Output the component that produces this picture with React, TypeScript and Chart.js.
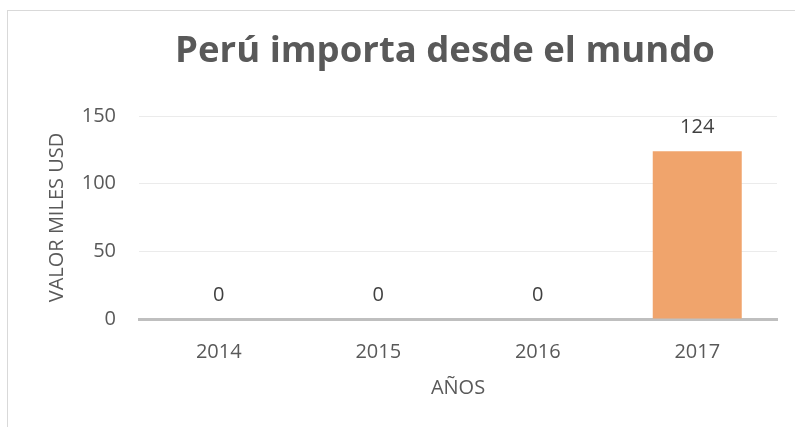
import React, { useEffect, useRef } from "react";
import { Chart, registerables } from "chart.js";

Chart.register(...registerables);

const categories = ["2014", "2015", "2016", "2017"];
const values = [0, 0, 0, 124];
const yTicks = [0, 50, 100, 150];
const chartTitle = "Perú importa desde el mundo";
const yTitle = "VALOR MILES USD";
const xTitle = "AÑOS";

const FONT = "'Open Sans', sans-serif";

const frame = {
  id: "frame",
  beforeDraw(chart: any) {
    const ctx = chart.ctx;
    ctx.save();
    ctx.fillStyle = "#ffffff";
    ctx.fillRect(0, 0, chart.width, chart.height);
    ctx.strokeStyle = "#D9D9D9";
    ctx.lineWidth = 1;
    ctx.strokeRect(7.5, 10.5, 1000, 1000);
    ctx.restore();
  },
  afterDraw(chart: any) {
    const ctx = chart.ctx;
    ctx.save();
    ctx.font = `bold 36.5px ${FONT}`;
    ctx.fillStyle = "#595959";
    ctx.textAlign = "center";
    ctx.textBaseline = "middle";
    ctx.fillText(chartTitle, 445, 52);
    ctx.restore();
  },
};

const valueLabels = {
  id: "valueLabels",
  afterDatasetsDraw(chart: any) {
    const ctx = chart.ctx;
    const meta = chart.getDatasetMeta(0);
    ctx.save();
    ctx.font = `20px ${FONT}`;
    ctx.fillStyle = "#404040";
    ctx.textAlign = "center";
    ctx.textBaseline = "middle";
    meta.data.forEach((el: any, i: number) => {
      ctx.fillText(String(values[i]), el.x, el.y - 24);
    });
    ctx.restore();
  },
};

export default function App() {
  const ref = useRef<HTMLCanvasElement>(null);
  useEffect(() => {
    if (!ref.current) return;
    const chart = new Chart(ref.current, {
      type: "bar",
      data: {
        labels: categories,
        datasets: [
          {
            data: values,
            backgroundColor: "rgb(240,164,108)",
            barPercentage: 0.558,
            categoryPercentage: 1,
          },
        ],
      },
      plugins: [frame, valueLabels],
      options: {
        responsive: false,
        animation: false,
        layout: { padding: { left: 0, right: 18, top: 116, bottom: 0 } },
        plugins: {
          legend: { display: false },
          tooltip: { enabled: false },
          title: { display: false },
        },
        scales: {
          x: {
            grid: { display: false, drawTicks: false },
            border: { display: true, color: "#BFBFBF", width: 3 },
            ticks: { color: "#595959", font: { family: FONT, size: 20 }, padding: 21 },
            title: {
              display: true,
              text: xTitle,
              color: "#595959",
              font: { family: FONT, size: 20 },
              padding: { top: 0, bottom: 27 },
            },
            afterFit: (s: any) => {
              s.height = 108;
            },
          },
          y: {
            min: 0,
            max: 150,
            afterBuildTicks: (s: any) => {
              s.ticks = yTicks.map((v) => ({ value: v }));
            },
            grid: { color: "#EBEBEB", lineWidth: 1, drawTicks: false },
            border: { display: false },
            ticks: { color: "#595959", font: { family: FONT, size: 20 }, padding: 23 },
            title: {
              display: true,
              text: yTitle,
              color: "#595959",
              font: { family: FONT, size: 20 },
              padding: { top: 45, bottom: 0 },
            },
            afterFit: (s: any) => {
              s.width = 139;
            },
          },
        },
      },
    });
    return () => chart.destroy();
  }, []);
  return (
    <div style={{ position: "fixed", left: 0, top: 0, width: 795, height: 427 }}>
      <canvas ref={ref} width={795} height={427} />
    </div>
  );
}
